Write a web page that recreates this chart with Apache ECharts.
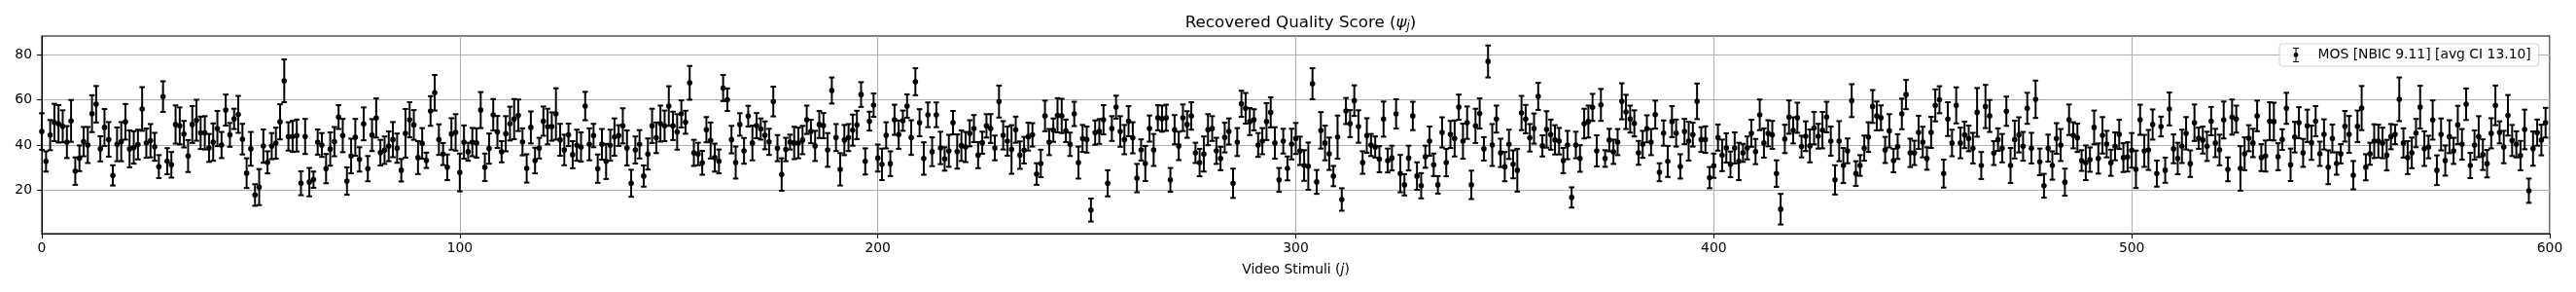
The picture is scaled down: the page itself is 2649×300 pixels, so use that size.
<!DOCTYPE html>
<html><head><meta charset="utf-8">
<script src="https://cdn.jsdelivr.net/npm/echarts@6/dist/echarts.min.js"></script>
<style>html,body{margin:0;padding:0;background:#fff}#c{width:2649px;height:300px}</style>
</head><body><div id="c"></div>
<script>
// Recovered MOS per video stimulus j = 0..599
const mos = [
46.0,32.7,44.4,50.0,49.4,48.3,41.3,50.7,28.4,34.1,
41.5,40.0,53.9,58.1,38.3,47.8,42.5,26.5,40.3,41.5,
50.3,38.3,38.9,40.2,56.0,40.8,41.9,39.2,30.4,61.5,
32.8,31.2,49.1,48.5,44.8,35.1,49.1,51.0,45.4,45.4,
38.7,41.3,47.3,40.0,55.5,44.5,51.6,53.6,42.6,27.5,
38.3,17.8,21.3,39.5,32.3,39.5,40.8,50.3,68.5,43.8,
43.8,44.2,23.0,43.8,23.5,24.6,41.3,40.0,29.5,38.2,
41.5,52.4,44.2,24.0,35.1,43.4,33.6,49.4,29.5,44.4,
52.0,36.6,37.7,39.4,42.4,38.6,28.8,45.2,51.2,48.9,
34.4,40.7,33.2,55.1,63.2,42.4,36.0,30.1,44.9,45.6,
27.8,41.3,37.0,41.3,40.9,55.5,30.1,38.4,53.4,45.8,
37.0,45.0,49.5,51.5,53.2,41.4,29.6,47.8,33.1,38.6,
50.6,48.2,48.2,53.8,42.3,37.8,44.5,35.7,39.9,39.1,
57.3,40.3,44.2,29.5,40.3,32.7,39.9,43.5,44.2,48.5,
38.7,23.0,37.8,40.3,26.2,36.0,48.5,43.2,49.5,48.5,
57.3,48.5,45.8,53.8,50.1,67.6,36.5,36.0,32.1,46.8,
42.0,34.4,32.7,65.3,60.1,42.4,32.2,49.1,37.4,52.8,
40.9,48.6,47.1,44.3,41.4,59.3,38.6,26.9,38.0,41.3,
40.9,40.9,42.2,51.2,46.0,39.6,49.1,48.6,37.8,64.2,
43.3,29.2,42.2,43.3,46.6,48.9,62.4,32.7,50.6,57.7,
34.2,31.4,44.3,31.7,51.2,44.6,50.8,57.3,43.3,68.1,
49.9,34.0,53.4,37.0,53.4,38.7,33.8,37.4,49.9,37.1,
39.7,39.1,45.2,47.3,35.5,41.0,48.5,47.3,38.7,59.3,
44.3,41.7,38.0,46.8,35.5,37.7,43.7,44.5,27.1,31.8,
52.9,41.3,46.6,53.2,52.9,46.3,40.3,53.8,32.2,42.9,
42.4,11.1,45.5,46.0,51.2,23.0,47.3,56.8,46.0,42.4,
50.6,43.2,25.3,37.8,31.8,47.3,37.8,52.1,51.7,52.1,
24.5,46.8,39.6,52.1,49.1,52.9,36.5,32.2,36.0,46.8,
47.3,37.4,34.0,43.3,46.0,23.0,41.3,58.3,56.3,50.4,
51.2,40.0,41.7,50.4,54.5,40.9,24.5,41.7,29.6,40.4,
42.9,37.4,30.9,30.6,67.2,23.6,46.5,40.9,36.1,26.2,
43.5,15.8,55.1,49.5,59.7,48.2,32.2,44.2,40.0,39.1,
33.7,51.5,33.1,34.2,53.8,27.3,22.3,34.2,52.9,26.2,
21.9,34.8,41.7,31.2,22.3,45.6,32.2,44.7,42.9,56.8,
41.7,49.9,22.3,48.5,54.0,38.3,77.1,40.0,51.5,36.5,
30.4,40.3,31.4,28.8,54.2,51.5,43.2,47.3,61.6,39.6,
46.9,44.6,42.3,41.7,33.1,40.0,16.7,40.0,34.0,49.5,
50.4,56.7,37.4,57.8,34.0,42.2,37.0,41.3,59.4,54.7,
51.5,49.6,36.5,40.3,47.2,41.3,53.5,27.9,45.3,32.7,
50.4,45.3,30.5,46.0,41.7,44.6,59.4,42.4,42.4,25.5,
30.8,43.3,35.4,38.7,31.4,38.7,32.7,36.5,38.7,45.2,
37.1,53.4,40.9,45.2,44.5,27.3,11.5,42.7,52.4,46.5,
52.1,39.3,43.9,39.6,47.5,43.9,46.6,52.4,41.7,24.5,
41.7,30.9,37.4,59.7,27.3,30.9,38.6,43.5,57.1,52.9,
52.1,37.8,46.3,33.1,39.3,53.8,62.4,36.5,36.5,45.6,
41.3,34.0,45.6,57.6,60.1,27.3,51.5,40.9,57.6,40.9,
44.5,42.9,38.6,54.5,30.9,57.1,52.9,36.4,42.4,38.6,
55.0,30.9,42.4,44.5,39.4,56.3,38.6,60.3,32.5,21.9,
38.6,30.9,42.9,40.0,23.5,51.2,44.3,43.2,33.1,32.1,
33.5,47.8,34.0,44.3,40.4,32.1,39.4,44.7,34.4,34.7,
37.6,29.2,51.2,37.4,37.8,49.1,27.3,48.2,28.8,56.0,
38.3,34.0,39.4,45.2,31.7,49.9,43.0,42.2,39.4,50.6,
40.9,37.8,51.1,29.2,52.4,51.5,29.6,36.1,43.0,40.9,
52.9,34.4,35.1,50.6,50.4,34.8,42.4,56.3,31.2,43.5,
49.9,36.5,48.5,41.0,50.6,36.1,44.7,30.1,42.9,31.8,
36.1,48.3,44.7,26.6,48.3,56.4,30.1,36.1,41.7,41.7,
40.9,35.5,43.7,44.7,60.3,40.9,34.4,36.5,45.3,56.8,
38.4,39.1,51.1,28.8,44.7,33.1,43.7,37.4,48.9,40.3,
58.1,30.9,40.0,43.7,35.7,31.7,45.2,57.6,45.6,39.1,
53.2,42.0,40.3,35.3,46.9,19.7,38.4,45.5,42.2,49.9
];
// Half-length of each confidence interval
const ci = [
8.1,4.5,6.7,8.3,8.3,7.1,7.1,9.3,6.1,5.7,
6.5,8.0,8.2,8.1,5.6,8.2,7.7,4.5,7.5,8.7,
7.9,8.2,7.2,6.6,9.7,6.5,7.4,6.2,5.1,6.8,
5.8,5.7,8.5,8.2,5.9,7.1,8.2,9.1,7.2,7.4,
6.2,8.3,7.8,5.8,6.9,5.3,4.5,8.2,6.8,6.6,
7.5,4.8,8.0,7.4,4.9,5.8,6.9,7.8,9.5,6.3,
6.9,7.1,5.3,7.8,6.3,3.6,5.6,5.3,6.5,7.4,
6.5,5.3,7.4,6.1,7.7,8.2,5.4,7.3,5.6,7.1,
8.7,5.7,6.1,6.6,7.8,6.5,5.0,10.8,7.8,6.6,
7.3,6.8,3.4,6.6,7.9,6.8,4.9,5.7,7.0,8.1,
8.4,7.4,4.0,6.3,6.5,8.0,6.1,6.7,7.0,7.1,
4.7,7.8,7.5,8.9,7.0,6.0,6.3,7.1,5.7,4.6,
6.5,7.9,6.3,11.4,7.1,6.8,5.0,6.0,6.9,6.5,
6.3,7.1,5.2,6.3,6.8,7.8,6.9,8.3,4.6,7.8,
7.8,6.0,6.0,6.3,4.7,6.9,7.6,6.8,8.0,6.8,
8.8,6.3,7.9,6.0,5.1,7.5,5.8,5.0,5.3,5.6,
8.0,6.2,5.3,5.8,5.0,6.1,7.1,5.0,5.7,4.6,
7.7,5.6,4.7,6.2,5.8,6.6,5.8,7.2,5.2,3.3,
7.2,6.8,6.3,6.3,5.2,6.7,6.0,5.6,7.5,5.8,
6.0,7.2,6.7,6.0,6.9,6.3,5.5,5.8,4.2,5.2,
6.0,7.0,5.8,5.5,6.7,6.3,4.5,5.2,7.7,6.0,
6.0,7.2,5.5,6.4,5.5,7.2,5.2,7.1,5.2,7.6,
6.8,6.7,5.8,6.0,5.8,4.9,5.2,6.4,5.5,7.1,
6.3,6.5,10.8,5.8,6.1,5.9,6.2,5.2,4.8,6.1,
6.8,5.8,5.2,7.6,7.6,5.0,5.2,5.4,7.1,6.0,
5.8,5.1,5.4,5.5,6.5,5.8,5.5,5.1,6.8,6.5,
6.7,6.9,6.3,4.7,7.8,5.8,7.1,5.6,5.8,5.8,
5.3,6.5,6.3,5.9,5.9,6.1,4.5,6.1,7.8,6.9,
5.5,5.8,5.2,6.6,5.8,6.5,6.2,5.8,6.8,6.0,
4.7,5.3,5.8,8.2,6.7,7.0,5.3,5.5,5.3,6.8,
6.9,6.3,6.8,10.5,6.9,5.3,8.1,7.7,7.2,4.5,
9.6,5.0,5.8,6.0,6.8,7.2,5.0,7.7,4.9,4.7,
5.8,7.8,5.3,5.5,6.5,8.3,4.7,5.5,6.3,6.1,
5.6,4.9,6.5,5.0,3.9,6.7,6.1,6.0,8.0,5.6,
7.8,7.2,6.3,7.6,6.7,5.2,7.1,9.3,6.0,6.3,
6.5,6.5,6.2,9.5,7.6,6.3,6.1,6.7,6.0,4.7,
8.1,6.7,6.5,5.9,5.6,6.3,4.5,5.9,5.9,6.6,
7.1,6.0,6.9,7.1,3.7,5.0,5.4,5.8,8.0,7.6,
6.0,5.8,5.3,6.0,6.0,5.8,6.2,4.0,5.6,6.9,
6.9,6.0,5.4,5.6,8.6,5.3,7.9,5.5,5.9,4.7,
5.4,5.8,7.0,6.5,5.7,6.9,8.3,4.0,5.1,6.0,
5.6,6.8,6.5,5.8,6.2,5.9,6.8,6.3,7.4,5.8,
6.7,4.8,6.6,7.3,7.2,5.5,8.1,6.8,6.5,6.5,
8.9,7.8,5.5,7.3,5.5,4.6,5.6,6.6,7.3,6.4,
5.5,5.8,7.4,5.2,5.5,6.8,6.5,6.3,5.4,7.4,
6.8,5.0,6.9,7.1,6.0,6.2,7.5,5.9,8.0,6.8,
5.9,5.7,6.8,10.8,6.0,9.6,7.1,5.3,5.0,6.3,
6.5,7.8,8.4,7.8,6.4,6.9,6.8,8.3,5.9,5.3,
6.0,6.3,6.8,7.1,6.0,6.8,5.8,6.3,4.6,7.7,
5.4,7.5,6.7,8.1,5.9,5.8,6.2,6.5,6.4,6.5,
7.7,8.3,6.7,7.1,8.9,6.7,5.8,4.4,5.6,7.3,
6.4,7.0,7.4,7.2,5.9,8.1,4.7,6.0,6.5,6.3,
6.3,6.8,8.2,5.3,7.8,6.0,9.9,7.3,5.8,6.3,
6.8,6.0,6.9,8.4,8.4,6.0,4.6,6.9,7.2,6.8,
6.9,6.2,7.2,7.6,6.7,5.4,6.7,7.5,6.2,5.0,
4.3,6.8,8.2,6.3,7.0,9.8,5.8,4.9,7.5,7.3,
6.8,6.8,5.6,4.3,9.7,6.5,7.3,6.8,6.3,9.5,
7.7,5.0,8.7,6.6,7.1,6.7,7.3,5.8,8.5,6.8,
7.0,5.6,6.5,9.1,6.8,6.1,6.7,8.8,4.9,7.2,
9.0,6.9,5.8,6.5,8.8,5.4,7.6,5.8,6.8,6.6
];
const yTicks = [20, 40, 60, 80];
const xTickStep = 100;
const seriesName = 'MOS [NBIC 9.11] [avg CI 13.10]';
const titleParts = ['Recovered Quality Score (', 'ψ', 'j', ')'];
const xLabelParts = ['Video Stimuli (', 'j', ')'];

const FONT = '"DejaVu Sans", sans-serif';
const data = mos.map((v, i) => [i, v, v - ci[i], v + ci[i]]);

// measure title to center it over the plot area
const mctx = document.createElement('canvas').getContext('2d');
function tw(t, size, style) { mctx.font = (style || '') + ' ' + size + 'px "DejaVu Sans"'; return mctx.measureText(t).width; }
const titleW = tw(titleParts[0], 16.7) + tw(titleParts[1], 16.7, 'italic') + tw(titleParts[2], 11.7, 'italic') + tw(titleParts[3], 16.7);

const gridL = 43, gridR = 27, gridT = 37, gridB = 60;
const plotCenter = gridL + (2649 - gridL - gridR) / 2;

const chart = echarts.init(document.getElementById('c'));
const errIcon = 'path://M0,0H8V1.3H0Z M0,18.7H8V20H0Z M3.3,0H4.7V20H3.3Z M4,6.7A3.3,3.3,0,1,1,3.99,6.7Z';

chart.setOption({
  animation: false,
  backgroundColor: '#ffffff',
  textStyle: { fontFamily: FONT },
  title: {
    text: '{n|' + titleParts[0] + '}{m|' + titleParts[1] + '}{s|' + titleParts[2] + '}{n|' + titleParts[3] + '}',
    left: plotCenter - titleW / 2,
    top: 9,
    textStyle: {
      fontWeight: 'normal',
      rich: {
        n: { fontSize: 16.7, fontFamily: FONT, fontWeight: 'normal', color: '#000' },
        m: { fontSize: 16.7, fontFamily: FONT, fontWeight: 'normal', fontStyle: 'italic', color: '#000' },
        s: { fontSize: 11.7, fontFamily: FONT, fontWeight: 'normal', fontStyle: 'italic', color: '#000', padding: [7, 0, 0, 0] }
      }
    }
  },
  legend: {
    data: [{ name: seriesName, icon: errIcon }],
    left: 2344, top: 45,
    padding: [4, 8, 4, 14],
    itemWidth: 7, itemHeight: 15,
    borderColor: '#d0d0d0', borderWidth: 1, borderRadius: 3,
    backgroundColor: 'rgba(255,255,255,0.85)',
    selectedMode: false,
    textStyle: { fontSize: 13.9, fontFamily: FONT, color: '#000', padding: [0, 0, 0, 14] }
  },
  grid: {
    left: gridL, right: gridR, top: gridT, bottom: gridB,
    show: true, borderColor: '#000', borderWidth: 1.1, backgroundColor: 'transparent'
  },
  xAxis: {
    type: 'value', min: 0, max: 600, interval: xTickStep,
    name: '{n|' + xLabelParts[0] + '}{i|' + xLabelParts[1] + '}{n|' + xLabelParts[2] + '}',
    nameLocation: 'middle', nameGap: 30,
    nameTextStyle: { rich: {
      n: { fontSize: 13.9, fontFamily: FONT, color: '#000' },
      i: { fontSize: 13.9, fontFamily: FONT, fontStyle: 'italic', color: '#000' }
    } },
    axisLine: { show: true, lineStyle: { color: '#000', width: 1.1 } },
    axisTick: { show: true, inside: false, length: 5, lineStyle: { color: '#000', width: 1.1 } },
    axisLabel: { fontSize: 13.9, color: '#000', fontFamily: FONT, margin: 8 },
    splitLine: { show: true, lineStyle: { color: '#b0b0b0', width: 1.1 } }
  },
  yAxis: {
    type: 'value', min: 0.65, max: 88.4,
    axisLine: { show: true, lineStyle: { color: '#000', width: 1.1 } },
    axisTick: { show: true, inside: false, length: 5, customValues: yTicks, lineStyle: { color: '#000', width: 1.1 } },
    axisLabel: { fontSize: 13.9, color: '#000', fontFamily: FONT, margin: 10, customValues: yTicks },
    splitLine: { show: true, lineStyle: { color: '#b0b0b0', width: 1.1 } }
  },
  series: [{
    name: seriesName,
    type: 'custom',
    itemStyle: { color: '#000' },
    encode: { x: 0, y: [1, 2, 3] },
    data: data,
    renderItem: function (params, api) {
      const x = api.value(0);
      const p = api.coord([x, api.value(1)]);
      const lo = api.coord([x, api.value(2)]);
      const hi = api.coord([x, api.value(3)]);
      const cap = 2.8;
      const st = { stroke: '#000', lineWidth: 2 };
      return {
        type: 'group',
        children: [
          { type: 'line', shape: { x1: p[0], y1: lo[1], x2: p[0], y2: hi[1] }, style: st },
          { type: 'line', shape: { x1: p[0] - cap, y1: hi[1], x2: p[0] + cap, y2: hi[1] }, style: st },
          { type: 'line', shape: { x1: p[0] - cap, y1: lo[1], x2: p[0] + cap, y2: lo[1] }, style: st },
          { type: 'circle', shape: { cx: p[0], cy: p[1], r: 2.8 }, style: { fill: '#000' } }
        ]
      };
    }
  }]
});
</script>
</body></html>
